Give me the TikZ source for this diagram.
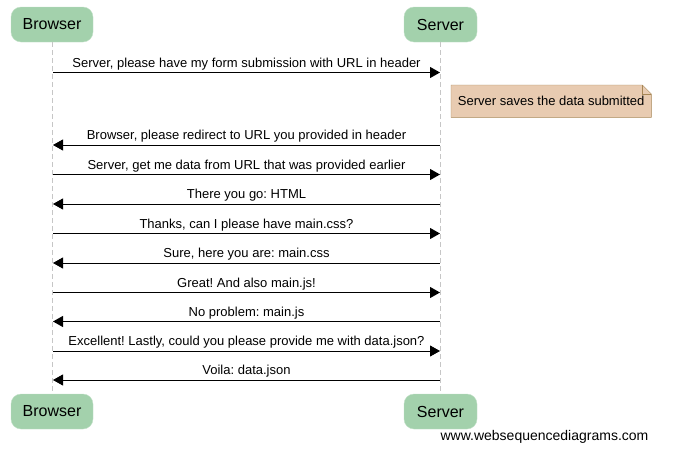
\documentclass[tikz,border=0pt]{standalone}
\usepackage{fontspec}
\setmainfont{Liberation Sans}
\usetikzlibrary{arrows.meta,backgrounds}

\definecolor{actorgreen}{HTML}{A3D1AC}
\definecolor{notefill}{HTML}{E8CBB1}
\definecolor{noteline}{HTML}{A68655}

\tikzset{
	actor/.style={fill=actorgreen, draw=actorgreen!70!white, rounded corners=10pt, minimum height=35pt, inner sep=0pt, font=\fontsize{16}{18}\selectfont},
	life/.style={draw=gray!45, dashed, dash pattern=on 5pt off 3pt},
	msg/.style={-{Triangle[length=10pt,width=11pt]}, line width=0.9pt},
	lbl/.style={above, inner sep=2pt, font=\fontsize{13}{15}\selectfont},
}

\begin{document}
\frenchspacing
\begin{tikzpicture}[x=1pt, y=-1pt]
		\useasboundingbox (0,0) rectangle (681,466);

		\node[actor, minimum width=82pt] (browsertop) at (52,24.5) {Browser};
		\node[actor, minimum width=73pt] (servertop) at (440.5,24.5) {Server};
		\node[actor, minimum width=82pt] (browserbot) at (52,411.5) {Browser};
		\node[actor, minimum width=73pt] (serverbot) at (440.5,411.5) {Server};

		\draw[life] (browsertop.south) -- (browserbot.north);
		\draw[life] (servertop.south) -- (serverbot.north);

		% points on the lifelines
		\foreach \i/\y in {1/72.5,2/145,3/174.5,4/204,5/233.5,6/263,7/292.5,8/321.5,9/351,10/380}{
			\coordinate (b\i) at (53,\y);
			\coordinate (s\i) at (440,\y);
		}

		\draw[msg] (b1) -- node[lbl]{Server, please have my form submission with URL in header} (s1);

		% note with folded corner
		\node[anchor=north west, minimum width=200pt, minimum height=32pt, inner sep=0pt, font=\fontsize{13}{15}\selectfont] (note) at (451,85) {Server saves the data submitted};
		\begin{scope}[on background layer]
			\draw[draw=noteline, fill=notefill] (note.north west) -- ([xshift=-9pt]note.north east) -- ([yshift=-9pt]note.north east) -- (note.south east) -- (note.south west) -- cycle;
			\draw[draw=noteline] ([xshift=-9pt]note.north east) -- ([xshift=-9pt,yshift=-9pt]note.north east) -- ([yshift=-9pt]note.north east);
		\end{scope}

		\draw[msg] (s2) -- node[lbl]{Browser, please redirect to URL you provided in header} (b2);
		\draw[msg] (b3) -- node[lbl]{Server, get me data from URL that was provided earlier} (s3);
		\draw[msg] (s4) -- node[lbl]{There you go: HTML} (b4);
		\draw[msg] (b5) -- node[lbl]{Thanks, can I please have main.css?} (s5);
		\draw[msg] (s6) -- node[lbl]{Sure, here you are: main.css} (b6);
		\draw[msg] (b7) -- node[lbl]{Great! And also main.js!} (s7);
		\draw[msg] (s8) -- node[lbl]{No problem: main.js} (b8);
		\draw[msg] (b9) -- node[lbl]{Excellent! Lastly, could you please provide me with data.json?} (s9);
		\draw[msg] (s10) -- node[lbl]{Voila: data.json} (b10);

		\node[font=\fontsize{14}{16}\selectfont, inner sep=0pt] (credit) at (544.5,437) {www.websequencediagrams.com};
	\end{tikzpicture}
\end{document}
